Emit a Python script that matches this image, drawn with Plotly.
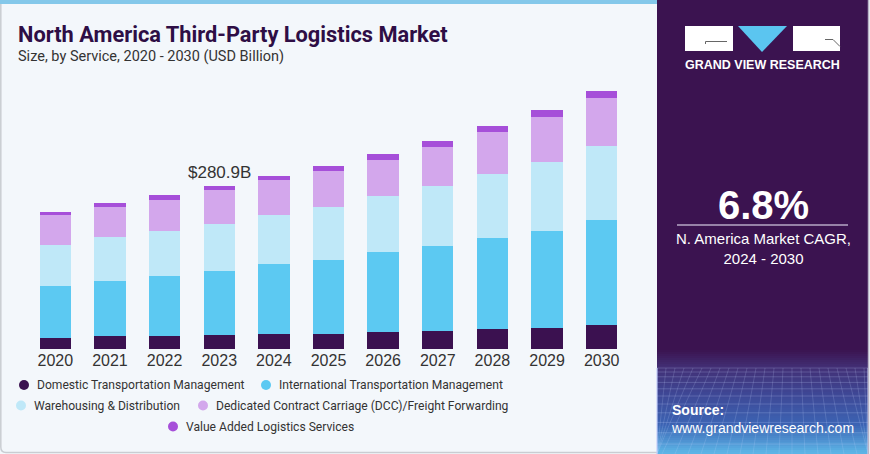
import plotly.graph_objects as go

years = ["2020", "2021", "2022", "2023", "2024", "2025", "2026", "2027", "2028", "2029", "2030"]
domestic = [19.0, 21.8, 21.8, 23.5, 25.9, 25.9, 29.4, 31.1, 33.9, 36.3, 41.5]
international = [90.4, 95.8, 104.9, 111.4, 121.1, 128.0, 137.6, 147.5, 158.0, 168.2, 182.1]
warehousing = [70.4, 75.4, 77.3, 81.8, 85.2, 90.9, 96.8, 103.7, 111.2, 119.3, 127.4]
dcc = [52.4, 53.0, 54.2, 57.5, 60.5, 62.2, 62.3, 66.3, 72.1, 76.6, 83.0]
value_added = [4.0, 6.4, 8.6, 6.7, 7.0, 9.4, 11.0, 11.0, 9.7, 11.6, 12.1]

series_names = [
    "Domestic Transportation Management",
    "International Transportation Management",
    "Warehousing & Distribution",
    "Dedicated Contract Carriage (DCC)/Freight Forwarding",
    "Value Added Logistics Services",
]
series_values = [domestic, international, warehousing, dcc, value_added]
colors = ["#3b1150", "#5cc9f2", "#bfe8f8", "#d3a7ec", "#a64fd9"]

label_year = "2023"
label_text = "$280.9B"
cagr_text = "6.8%"

W, H = 870, 454
L, R, T, B = 28, 629, 71, 349
PW, PH = R - L, B - T


def X(px):
    return (px - L) / PW


def Y(py):
    return (B - py) / PH


fig = go.Figure()
for name, vals, col in zip(series_names, series_values, colors):
    fig.add_trace(go.Bar(x=years, y=vals, name=name, marker=dict(color=col, line=dict(width=0)),
                         hoverinfo="skip", showlegend=False))

shapes = []
annotations = []

# left panel top strip
shapes.append(dict(type="rect", xref="paper", yref="paper", x0=X(0), x1=X(657), y0=Y(4), y1=Y(0),
                   fillcolor="#84c8ea", line=dict(width=0), layer="below"))
# left panel border (left + bottom)
shapes.append(dict(type="path", xref="paper", yref="paper",
                   path=f"M{X(0.8)},{Y(4)} L{X(0.8)},{Y(447)} Q{X(0.8)},{Y(452.5)} {X(6)},{Y(452.5)} L{X(657)},{Y(452.5)}",
                   line=dict(color="#c9cdd2", width=1.5), layer="below"))

# right panel
shapes.append(dict(type="rect", xref="paper", yref="paper", x0=X(657), x1=X(868), y0=Y(454), y1=Y(0),
                   fillcolor="#3b1350", line=dict(width=0), layer="below"))

# gradient bands at the bottom of the right panel
stops = [(350, (59, 19, 80)), (368, (66, 48, 118)), (395, (62, 72, 150)), (425, (60, 100, 180)), (452, (92, 180, 230))]


def interp(py):
    for (a, ca), (b, cb) in zip(stops[:-1], stops[1:]):
        if a <= py <= b:
            t = (py - a) / (b - a)
            return tuple(int(round(ca[k] + (cb[k] - ca[k]) * t)) for k in range(3))
    return stops[-1][1]


py = 350
while py < 454:
    c = interp(py + 1)
    shapes.append(dict(type="rect", xref="paper", yref="paper", x0=X(657), x1=X(868), y0=Y(py + 2.2), y1=Y(py),
                       fillcolor=f"rgb{c}", line=dict(width=0), layer="below"))
    py += 2
# faint grid in the gradient
gy = 368
step = 4
while gy < 454:
    shapes.append(dict(type="line", xref="paper", yref="paper", x0=X(657), x1=X(868), y0=Y(gy), y1=Y(gy),
                       line=dict(color="rgba(200,215,255,0.22)", width=1), layer="below"))
    gy += step
    step += 0.8
for i in range(-8, 30):
    xt = 657 + i * 9
    xb = 657 + i * 13 - 60
    shapes.append(dict(type="line", xref="paper", yref="paper", x0=X(max(min(xt, 868), 657)), y0=Y(368),
                       x1=X(max(min(xb, 868), 657)), y1=Y(454),
                       line=dict(color="rgba(200,215,255,0.18)", width=1), layer="below"))
shapes.append(dict(type="line", xref="paper", yref="paper", x0=X(868.5), x1=X(868.5), y0=Y(454), y1=Y(0),
                   line=dict(color="#b9b3c6", width=1.5), layer="below"))

# logo
shapes.append(dict(type="rect", xref="paper", yref="paper", x0=X(685), x1=X(733), y0=Y(51), y1=Y(26),
                   fillcolor="white", line=dict(width=0)))
shapes.append(dict(type="path", xref="paper", yref="paper",
                   path=f"M{X(738)},{Y(26)} L{X(787)},{Y(26)} L{X(762)},{Y(52)} Z",
                   fillcolor="#5bc5f0", line=dict(width=0)))
shapes.append(dict(type="rect", xref="paper", yref="paper", x0=X(793), x1=X(840), y0=Y(51), y1=Y(26),
                   fillcolor="white", line=dict(width=0)))
shapes.append(dict(type="path", xref="paper", yref="paper",
                   path=f"M{X(705.5)},{Y(44)} L{X(705.5)},{Y(41.5)} L{X(727)},{Y(41.5)}",
                   line=dict(color="#666", width=1)))
shapes.append(dict(type="path", xref="paper", yref="paper",
                   path=f"M{X(825)},{Y(39.5)} L{X(833)},{Y(39.5)} L{X(840)},{Y(46.5)}",
                   line=dict(color="#666", width=1)))
annotations.append(dict(text="<b>GRAND VIEW RESEARCH</b>", xref="paper", yref="paper", x=X(762.5), y=Y(65),
                        xanchor="center", yanchor="middle", showarrow=False,
                        font=dict(family="Liberation Sans, Arial", size=12.5, color="white")))

# CAGR block
annotations.append(dict(text=f"<b>{cagr_text}</b>", xref="paper", yref="paper", x=X(763), y=Y(205),
                        xanchor="center", yanchor="middle", showarrow=False,
                        font=dict(family="Liberation Sans, Arial", size=40, color="white")))
shapes.append(dict(type="line", xref="paper", yref="paper", x0=X(677), x1=X(848), y0=Y(225), y1=Y(225),
                   line=dict(color="#b7a9c6", width=1.5)))
annotations.append(dict(text="N. America Market CAGR,<br>2024 - 2030", xref="paper", yref="paper",
                        x=X(763), y=Y(248.5), xanchor="center", yanchor="middle", showarrow=False,
                        font=dict(family="Liberation Sans, Arial", size=15, color="white")))

# source
annotations.append(dict(text="<b>Source:</b><br>www.grandviewresearch.com", xref="paper", yref="paper",
                        x=X(669), y=Y(419), xanchor="left", yanchor="middle", align="left", showarrow=False,
                        font=dict(family="Liberation Sans, Arial", size=14, color="white")))

# titles
annotations.append(dict(text="<b>North America Third-Party Logistics Market</b>", xref="paper", yref="paper",
                        x=X(16), y=Y(34.5), xanchor="left", yanchor="middle", showarrow=False,
                        font=dict(family="Roboto", size=21.8, color="#2e0e45")))
annotations.append(dict(text="Size, by Service, 2020 - 2030 (USD Billion)", xref="paper", yref="paper",
                        x=X(16), y=Y(56.5), xanchor="left", yanchor="middle", showarrow=False,
                        font=dict(family="Roboto", size=14.5, color="#333333")))

# value label (category axis annotations use the category index)
idx = years.index(label_year)
total = sum(v[idx] for v in series_values)
annotations.append(dict(text=label_text, x=idx, y=total, xref="x", yref="y", yanchor="bottom",
                        xanchor="center", yshift=2, showarrow=False,
                        font=dict(family="Liberation Sans, Arial", size=17, color="#333333")))

# manual legend (rows centred like the reference)
legend_rows = [[0, 1], [2, 3], [4]]
row_y = [385, 405.5, 426.5]
marker_x = [[24, 266], [21, 203], [173]]
text_x = [[35, 277], [31.5, 214], [184]]
for r, items in enumerate(legend_rows):
    for j, si in enumerate(items):
        cx = marker_x[r][j]
        cy = row_y[r]
        rad = 5
        shapes.append(dict(type="circle", xref="paper", yref="paper", x0=X(cx - rad), x1=X(cx + rad),
                           y0=Y(cy + rad), y1=Y(cy - rad), fillcolor=colors[si], line=dict(width=0)))
        annotations.append(dict(text=series_names[si], xref="paper", yref="paper", x=X(text_x[r][j]), y=Y(cy),
                                xanchor="left", yanchor="middle", showarrow=False,
                                font=dict(family="Roboto", size=12.1, color="#333333")))

fig.update_layout(
    width=W, height=H,
    margin=dict(l=L, r=W - R, t=T, b=H - B, pad=0, autoexpand=False),
    barmode="stack", bargap=0.426,
    paper_bgcolor="#f3f7fb", plot_bgcolor="#f3f7fb",
    shapes=shapes, annotations=annotations,
    showlegend=False, hovermode=False,
    xaxis=dict(type="category", range=[-0.5, len(years) - 0.5], autorange=False, automargin=False,
               showgrid=False, zeroline=False, showline=False, ticks="",
               tickfont=dict(family="Liberation Sans, Arial", size=16, color="#333333")),
    yaxis=dict(visible=False, range=[0, PH / 0.5789], autorange=False, fixedrange=True),
)

fig.write_html("out.html", config={"displayModeBar": False, "staticPlot": True},
               post_script="document.body.style.margin='0';document.body.style.overflow='hidden';")
